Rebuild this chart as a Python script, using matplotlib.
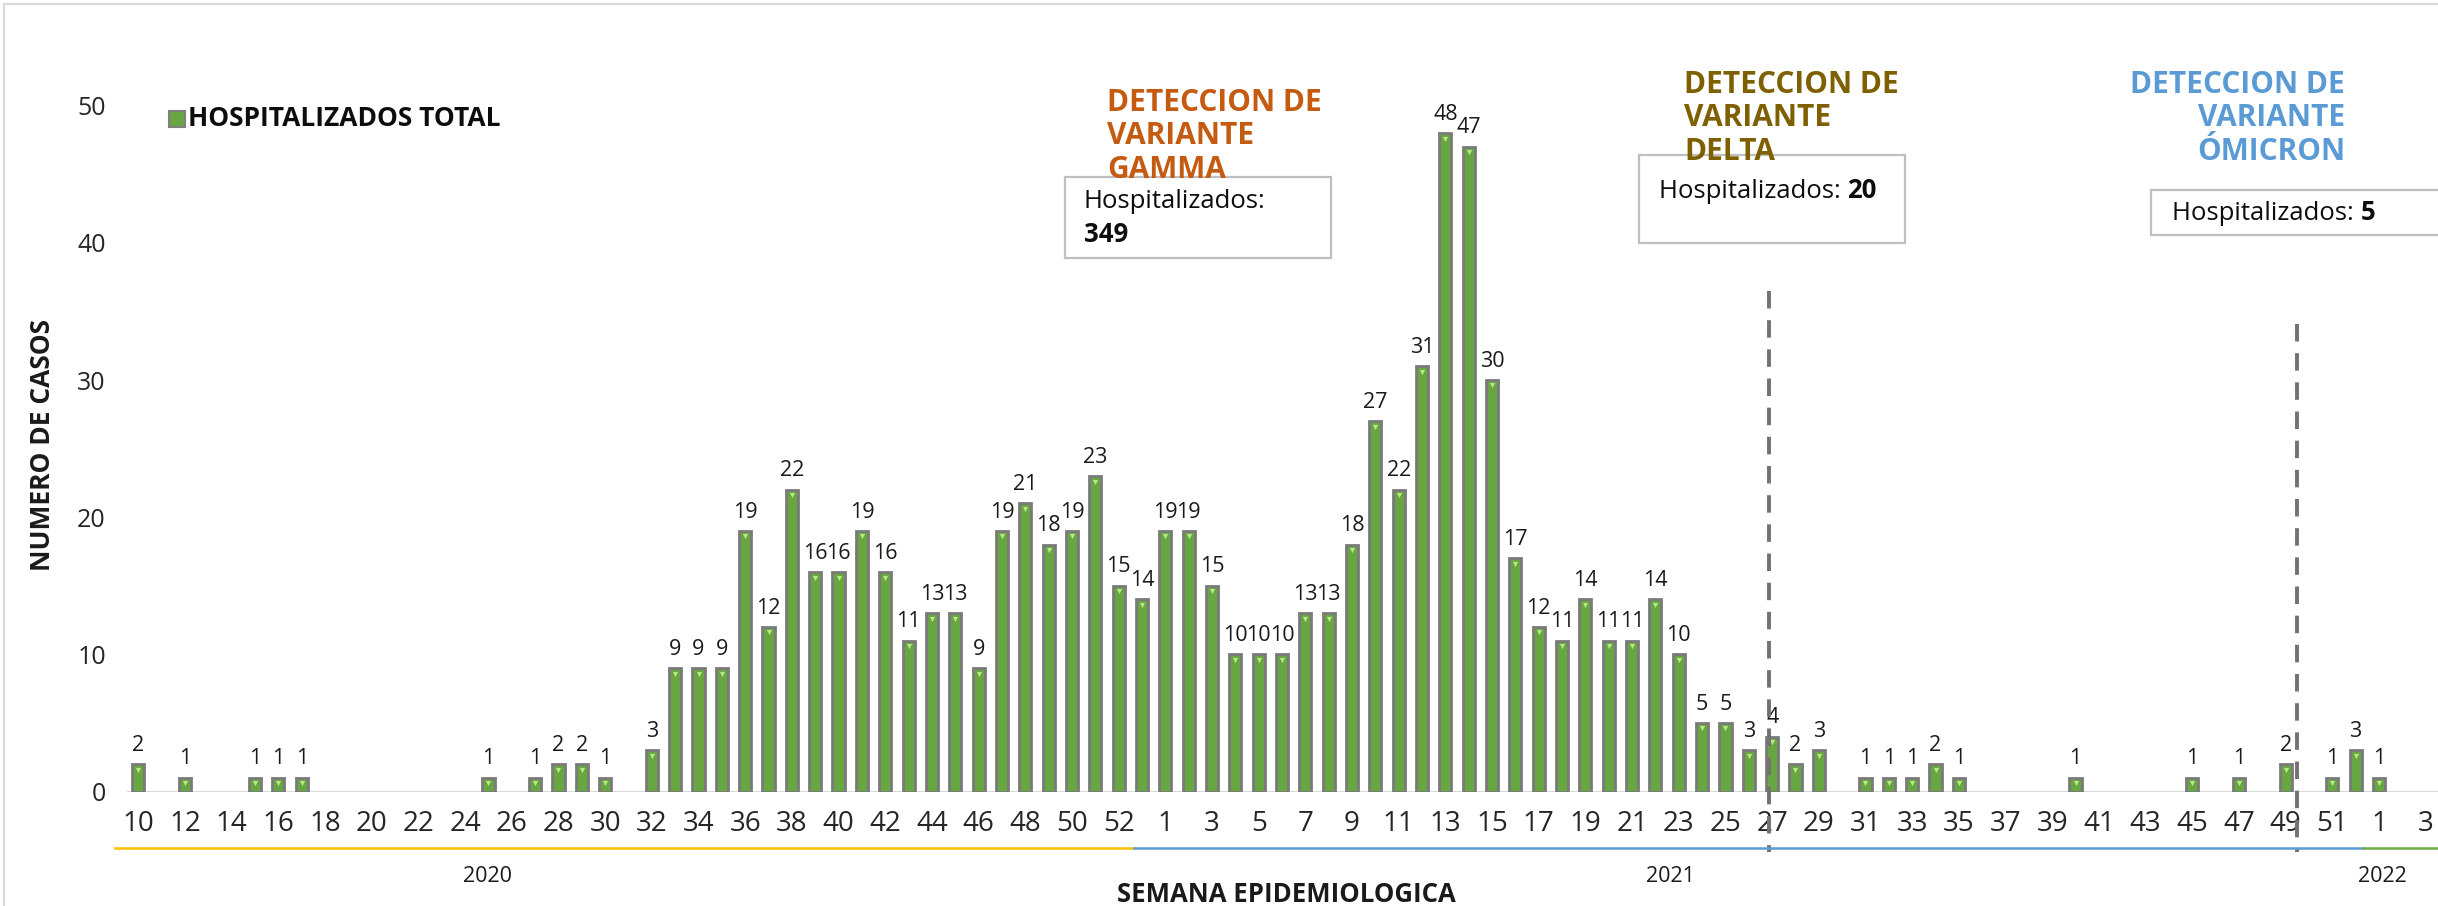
import matplotlib
matplotlib.use("Agg")
import matplotlib.pyplot as plt
from matplotlib.lines import Line2D
from matplotlib.patches import Rectangle
import numpy as np

plt.rcParams['font.family'] = ['Open Sans', 'DejaVu Sans']

# Weekly hospitalisations by epidemiological week
weeks_2020 = list(range(10, 54))
hosp_2020 = [2, 0, 1, 0, 0, 1, 1, 1, 0, 0, 0, 0, 0, 0, 0, 1, 0, 1, 2, 2, 1, 0,
             3, 9, 9, 9, 19, 12, 22, 16, 16, 19, 16, 11, 13, 13, 9, 19, 21, 18,
             19, 23, 15, 14]
weeks_2021 = list(range(1, 53))
hosp_2021 = [19, 19, 15, 10, 10, 10, 13, 13, 18, 27, 22, 31, 48, 47, 30, 17, 12,
             11, 14, 11, 11, 14, 10, 5, 5, 3, 4, 2, 3, 0, 1, 1, 1, 2, 1, 0, 0,
             0, 0, 1, 0, 0, 0, 0, 1, 0, 1, 0, 2, 0, 1, 3]
weeks_2022 = [1, 2, 3]
hosp_2022 = [1, 0, 0]

years = ['2020', '2021', '2022']
variant_titles = ['DETECCION DE\nVARIANTE\nGAMMA',
                  'DETECCION DE\nVARIANTE\nDELTA',
                  'DETECCION DE\nVARIANTE\nÓMICRON']
variant_totals = ['349', '20', '5']
series_name = 'HOSPITALIZADOS TOTAL'

weeks = weeks_2020 + weeks_2021 + weeks_2022
values = np.array(hosp_2020 + hosp_2021 + hosp_2022)
x = np.arange(len(values))
tick_labels = [str(w) for w in weeks]

W, H = 2438, 906
fig = plt.figure(figsize=(W / 100, H / 100), dpi=100)


def fx(px):
    return px / W


def fy(py):
    return 1 - py / H


ax = fig.add_axes([fx(126.7), fy(791.5), 1 - fx(126.7), (791.5 - 37.1) / H])
ax.set_xlim(-0.5, 98.53)
ax.set_ylim(0, 55)
for s in ax.spines.values():
    s.set_visible(False)

bar_green = '#68A642'
pos = values > 0
ax.bar(x[pos], values[pos], width=0.52, color=bar_green, edgecolor='#7A7A7A',
       linewidth=2.0, zorder=3)
ax.scatter(x[pos], values[pos] - 0.4, marker='v', s=14, color='#B8E986',
           linewidths=0, zorder=4)
ax.axhline(0, color='#D9D9D9', lw=2.2, zorder=2)

for xi, v in zip(x, values):
    if v > 0:
        ax.annotate(str(v), (xi, v), xytext=(0, 6), textcoords='offset points',
                    ha='center', va='bottom', fontsize=15.5, color='#1a1a1a',
                    zorder=5)

ax.set_yticks(range(0, 51, 10))
ax.set_xticks(x[::2])
ax.set_xticklabels(tick_labels[::2])
ax.tick_params(axis='y', length=0, pad=15, labelsize=18, labelcolor='#262626')
ax.tick_params(axis='x', length=0, pad=13, labelsize=20, labelcolor='#262626')

# Variant detection markers
idx_delta = len(weeks_2020) + weeks_2021.index(27)
idx_omicron = len(weeks_2020) + weeks_2021.index(49)
ax.plot([idx_delta - 0.15] * 2, [36.5, -4.4], color='#767171', lw=2.8,
        dashes=(4.5, 3), clip_on=False, zorder=6)
ax.plot([idx_omicron + 0.5] * 2, [34.1, -4.4], color='#767171', lw=2.8,
        dashes=(4.5, 3), clip_on=False, zorder=6)

# Year bands under the category axis
band_y = fy(848)
for (x0, x1), col in zip([(115, 1134), (1134, 2363), (2363, W)],
                         ['#FFC000', '#5B9BD5', '#70AD47']):
    fig.add_artist(Line2D([fx(x0), fx(x1)], [band_y, band_y], color=col,
                          lw=1.8, transform=fig.transFigure))
for yr, px in zip(years, [488, 1670, 2382]):
    fig.text(fx(px), fy(876), yr, ha='center', va='center', fontsize=15.5,
             color='#1a1a1a')

fig.text(fx(1286), fy(894), 'SEMANA EPIDEMIOLOGICA', ha='center',
         va='center', fontsize=18.5, fontweight='bold', color='#1a1a1a')
fig.text(fx(43), fy(445), 'NUMERO DE CASOS', ha='center', va='center',
         rotation=90, fontsize=19, fontweight='bold', color='#1a1a1a')

# Legend
fig.add_artist(Rectangle((fx(169), fy(127)), fx(16), 16 / H,
                         facecolor=bar_green, edgecolor='#7F7F7F', lw=1.5,
                         transform=fig.transFigure))
fig.text(fx(188), fy(118), series_name, ha='left', va='center',
         fontsize=19, fontweight='bold', color='#0d0d0d')

# Variant titles
title_cols = ['#C55A11', '#7F6000', '#5B9BD5']
fig.text(fx(1107), fy(88), variant_titles[0], ha='left', va='top',
         fontsize=21.5, fontweight='bold', color=title_cols[0],
         linespacing=1.15)
fig.text(fx(1684), fy(70), variant_titles[1], ha='left', va='top',
         fontsize=21.5, fontweight='bold', color=title_cols[1],
         linespacing=1.15)
fig.text(fx(2345), fy(70), variant_titles[2], ha='right', va='top',
         fontsize=21.5, fontweight='bold', color=title_cols[2],
         linespacing=1.15, multialignment='right')

# Totals boxes
boxes = [(1065, 177, 1331, 258), (1639, 155, 1905, 243), (2151, 190, 2470, 235)]
for (x0, y0, x1, y1) in boxes:
    fig.add_artist(Rectangle((fx(x0), fy(y1)), fx(x1 - x0), (y1 - y0) / H,
                             facecolor='white', edgecolor='#BFBFBF', lw=1.6,
                             transform=fig.transFigure, zorder=1))

box_fs = 18.5
fig.text(fx(1084), fy(202), 'Hospitalizados:', ha='left', va='center',
         fontsize=box_fs, color='#0d0d0d')
fig.text(fx(1084), fy(234), variant_totals[0], ha='left', va='center',
         fontsize=box_fs, fontweight='bold', color='#0d0d0d')
t = fig.text(fx(1659), fy(191), 'Hospitalizados: ', ha='left', va='center',
             fontsize=box_fs, color='#0d0d0d')
fig.canvas.draw()
bb = t.get_window_extent()
fig.text(bb.x1 / W, fy(191), variant_totals[1], ha='left', va='center',
         fontsize=box_fs, fontweight='bold', color='#0d0d0d')
t = fig.text(fx(2172), fy(213), 'Hospitalizados: ', ha='left', va='center',
             fontsize=box_fs, color='#0d0d0d')
fig.canvas.draw()
bb = t.get_window_extent()
fig.text(bb.x1 / W, fy(213), variant_totals[2], ha='left', va='center',
         fontsize=box_fs, fontweight='bold', color='#0d0d0d')

# Chart area border
fig.add_artist(Line2D([fx(4), fx(4), 1.0], [0, fy(4), fy(4)],
                      color='#D9D9D9', lw=1.5, transform=fig.transFigure))

fig.savefig('out.png', dpi=100)
